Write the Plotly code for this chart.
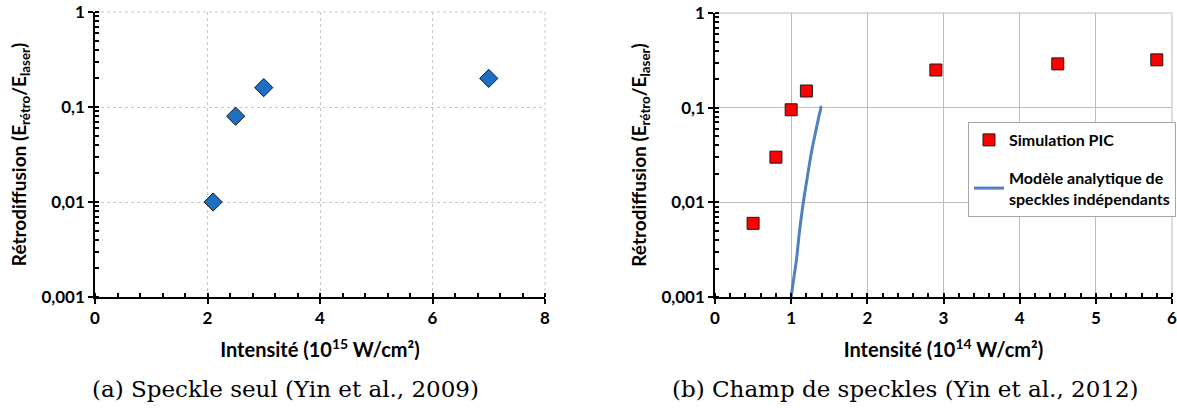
import plotly.graph_objects as go

# Panel (a): single speckle
a_x = [2.1, 2.5, 3.0, 7.0]
a_y = [0.01, 0.08, 0.16, 0.2]

# Panel (b): speckle field - PIC simulation
b_x = [0.5, 0.8, 1.0, 1.2, 2.9, 4.5, 5.8]
b_y = [0.006, 0.03, 0.095, 0.15, 0.25, 0.29, 0.32]

# Panel (b): analytic model of independent speckles
m_x = [1.0, 1.03, 1.07, 1.11, 1.16, 1.21, 1.27, 1.33, 1.37, 1.39, 1.38]
m_y = [0.001, 0.0015, 0.0025, 0.005, 0.01, 0.018, 0.035, 0.06, 0.085, 0.1, 0.104]

y_tickvals = [0.001, 0.01, 0.1, 1]
y_ticktext = ["0,001", "0,01", "0,1", "1"]

FONT = "Lato"
W, H = 1177, 408

def px(x):
    return x / W

def py(y):
    return 1 - y / H

fig = go.Figure()

fig.add_trace(go.Scatter(
    x=a_x, y=a_y, mode="markers", showlegend=False,
    marker=dict(symbol="diamond", size=14, color="#1f6fc0",
                line=dict(color="#1a1a1a", width=1)),
    xaxis="x", yaxis="y"))

fig.add_trace(go.Scatter(
    x=b_x, y=b_y, mode="markers", name="Simulation PIC", legendgroup="a",
    marker=dict(symbol="square", size=12, color="#ff0000",
                line=dict(color="#1a1a1a", width=1)),
    xaxis="x2", yaxis="y2"))

fig.add_trace(go.Scatter(
    x=m_x, y=m_y, mode="lines", name="Modèle analytique de<br>speckles indépendants",
    legendgroup="b", line=dict(color="#4f81bd", width=3, shape="spline"),
    xaxis="x2", yaxis="y2"))

tickfont = dict(family=FONT, size=17, color="black", weight="bold")
ytitlefont = dict(family=FONT, size=19, color="black", weight="bold")
xtitlefont = dict(family=FONT, size=20, color="black", weight="bold")

def xax(domain, rng, dtick, minor, title, griddash, gridcolor, anchor):
    return dict(domain=domain, range=rng, dtick=dtick, tick0=0,
                showline=True, linecolor="black", linewidth=1.5,
                ticks="outside", ticklen=5, tickcolor="black", tickwidth=1.5,
                minor=dict(ticks="inside", ticklen=4, dtick=minor, tickcolor="black", showgrid=False),
                showgrid=True, gridcolor=gridcolor, griddash=griddash, gridwidth=1,
                zeroline=False, tickfont=tickfont, anchor=anchor, automargin=False,
                ticklabeloverflow="allow",
                title=dict(text=title, font=xtitlefont, standoff=16))

def yax(domain, griddash, gridcolor, anchor):
    return dict(domain=domain, type="log", range=[-3, 0],
                tickvals=y_tickvals, ticktext=y_ticktext,
                showline=True, linecolor="black", linewidth=1.5,
                ticks="outside", ticklen=5, tickcolor="black", tickwidth=1.5,
                minor=dict(ticks="inside", ticklen=4, dtick="D1", tickcolor="black", showgrid=False),
                showgrid=True, gridcolor=gridcolor, griddash=griddash, gridwidth=1,
                zeroline=False, tickfont=tickfont, anchor=anchor, automargin=False,
                ticklabeloverflow="allow",
                title=dict(text="Rétrodiffusion (E<sub>rétro</sub>/E<sub>laser</sub>)",
                           font=ytitlefont, standoff=10))

# top / right frame lines (grid-coloured), drawn in axis-domain coordinates
frame = []
for xr, yr, dash, col in [("x domain", "y domain", "dot", "#c8c8c8"),
                          ("x2 domain", "y2 domain", "solid", "#bdbdbd")]:
    frame.append(dict(type="line", xref=xr, yref=yr, x0=0, x1=1, y0=1, y1=1,
                      line=dict(color=col, width=1, dash=dash), layer="below"))
    frame.append(dict(type="line", xref=xr, yref=yr, x0=1, x1=1, y0=0, y1=1,
                      line=dict(color=col, width=1, dash=dash), layer="below"))

fig.update_layout(
    width=W, height=H,
    margin=dict(l=0, r=0, t=0, b=0, autoexpand=False),
    paper_bgcolor="white", plot_bgcolor="white",
    xaxis=xax([px(95), px(545)], [0, 8], 2, 0.4,
              "Intensité (10<sup>15</sup> W/cm²)", "dot", "#c8c8c8", "y"),
    yaxis=yax([py(297), py(12)], "dot", "#c8c8c8", "x"),
    xaxis2=xax([px(715), px(1172)], [0, 6], 1, 0.2,
               "Intensité (10<sup>14</sup> W/cm²)", "solid", "#bdbdbd", "y2"),
    yaxis2=yax([py(297), py(13)], "solid", "#bdbdbd", "x2"),
    shapes=frame,
    legend=dict(x=px(1176), y=py(122), xanchor="right", yanchor="top",
                bgcolor="white", bordercolor="#a6a6a6", borderwidth=1,
                font=dict(family=FONT, size=16, color="black", weight="bold"),
                tracegroupgap=14, itemwidth=30),
    annotations=[
        dict(text="(a) Speckle seul (Yin et al., 2009)", x=px(285), y=py(389),
             xref="paper", yref="paper", xanchor="center", yanchor="middle", showarrow=False,
             font=dict(family="DejaVu Serif", size=23, color="black")),
        dict(text="(b) Champ de speckles (Yin et al., 2012)", x=px(905), y=py(389),
             xref="paper", yref="paper", xanchor="center", yanchor="middle", showarrow=False,
             font=dict(family="DejaVu Serif", size=23, color="black")),
    ],
)

fig.write_html("out.html",
               config={"displayModeBar": False},
               post_script="document.body.style.margin='0';document.body.style.overflow='hidden';")
